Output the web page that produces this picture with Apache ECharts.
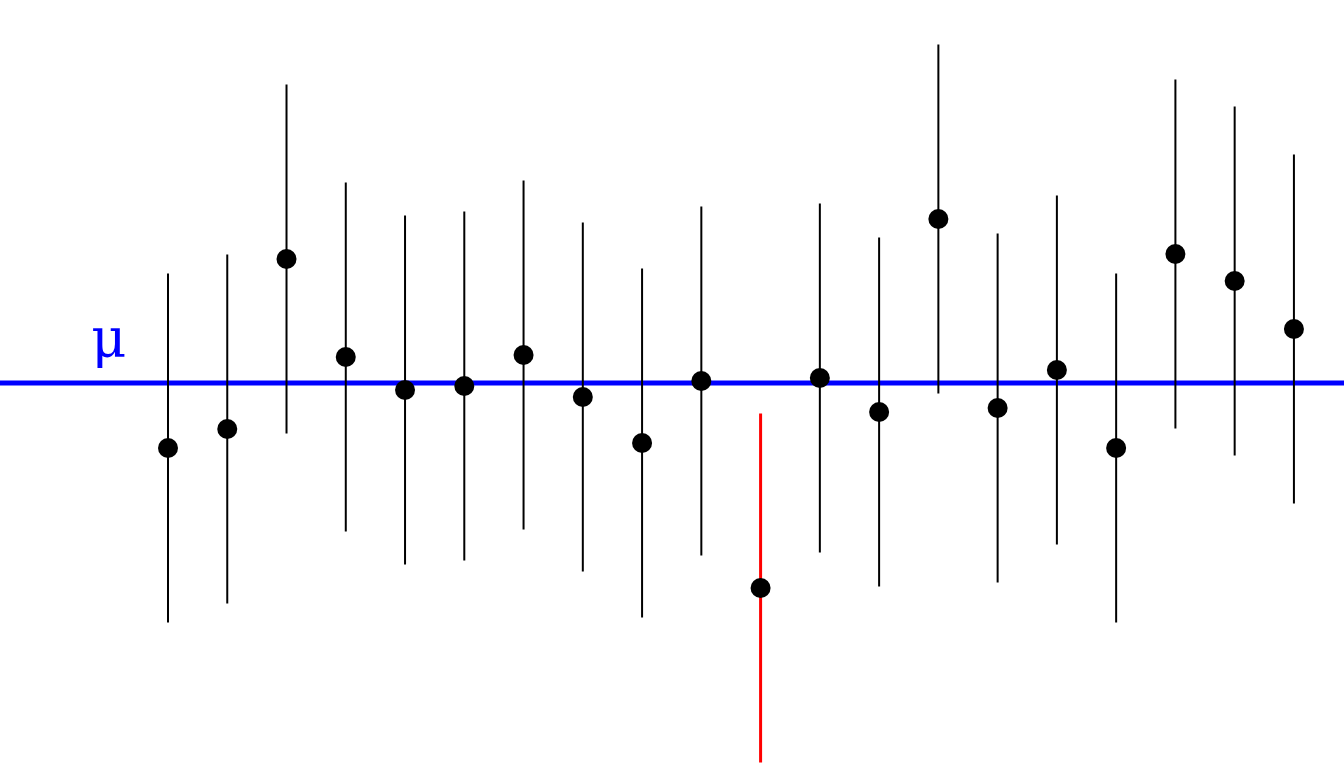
<!DOCTYPE html>
<html><head><meta charset="utf-8">
<script src="https://cdn.jsdelivr.net/npm/echarts@6/dist/echarts.min.js"></script>
<style>html,body{margin:0;padding:0;background:#fff}#c{width:1344px;height:768px}</style>
</head><body><div id="c"></div>
<script>
const sampleIndex = [1,2,3,4,5,6,7,8,9,10,11,12,13,14,15,16,17,18,19,20];
const sampleMeans = [-0.65,-0.46,1.24,0.26,-0.07,-0.03,0.28,-0.14,-0.60,0.02,-2.05,0.05,-0.29,1.64,-0.25,0.13,-0.65,1.29,1.02,0.54];
const halfWidth = 1.745;
const mu = 0;
const muLabel = 'μ';

const intervals = sampleIndex.map((x,i)=>{
  const lo = sampleMeans[i]-halfWidth, hi = sampleMeans[i]+halfWidth;
  return [x, lo, hi, (lo>mu||hi<mu)?1:0];
});
const points = sampleIndex.map((x,i)=>[x, sampleMeans[i]]);

const chart = echarts.init(document.getElementById('c'), null, {renderer:'canvas'});
chart.setOption({
  animation:false,
  backgroundColor:'#fff',
  grid:{left:0,right:0,top:0,bottom:0},
  xAxis:{type:'value',min:-1.835,max:20.845,show:false},
  yAxis:{type:'value',min:-3.85,max:3.83,show:false},
  series:[
    {type:'line',z:1,data:[[-1.835,mu],[20.845,mu]],symbol:'none',
     lineStyle:{color:'#0000ff',width:5},silent:true},
    {type:'custom',z:2,data:intervals,
     renderItem:function(params,api){
       const x=api.value(0);
       const p1=api.coord([x,api.value(1)]);
       const p2=api.coord([x,api.value(2)]);
       const miss=api.value(3)===1;
       return {type:'line',shape:{x1:p1[0],y1:p1[1],x2:p2[0],y2:p2[1]},
         style:{stroke:miss?'#ff0000':'#000000',lineWidth:miss?3:2}};
     }},
    {type:'scatter',z:3,data:points,symbol:'circle',symbolSize:20,
     itemStyle:{color:'#000000',opacity:1}},
    {type:'scatter',z:4,data:[[0,mu]],symbolSize:0,itemStyle:{opacity:1},
     label:{show:true,formatter:muLabel,position:'top',distance:13,color:'#0000ff',
       fontFamily:'DejaVu Serif',fontSize:54}}
  ]
});
</script></body></html>
